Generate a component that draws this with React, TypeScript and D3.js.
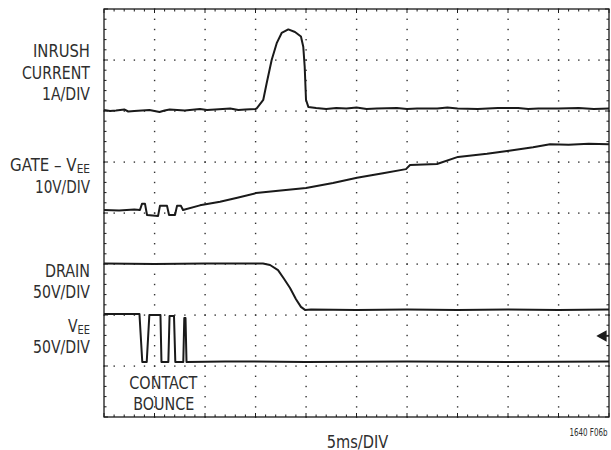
import * as d3 from "d3";
import React from "react";

// time in ms (5ms/DIV, 10 divisions), level in divisions from bottom (8 divisions)
const inrushCurrent: [number, number][] = [
  [0, 6.02], [0.6, 6.0], [1.2, 6.01], [2.0, 6.03], [2.4, 5.99], [3.0, 6.0],
  [4.5, 6.02], [5.5, 5.98], [6.0, 6.01], [6.5, 6.03], [8, 6.01], [9.5, 6.04],
  [10.2, 6.02], [11, 6.03], [12.5, 6.05], [13.3, 6.02], [14, 6.03],
  [15.0, 6.04], [15.12, 6.05], [15.77, 6.22], [16.11, 6.55], [16.6, 7.0],
  [17.1, 7.33], [17.59, 7.53], [18.25, 7.6], [18.91, 7.55], [19.5, 7.46],
  [19.73, 7.26], [19.87, 6.87], [20.0, 6.22], [20.23, 6.08], [21, 6.06],
  [22, 6.04], [23, 6.06], [24, 6.05], [25, 6.07], [26, 6.04], [27, 6.05],
  [29, 6.06], [30, 6.04], [31, 6.05], [33, 6.05], [34, 6.07], [35, 6.05],
  [37, 6.04], [39, 6.06], [41, 6.06], [42, 6.04], [43, 6.05], [45, 6.05],
  [47, 6.06], [48.5, 6.04], [50, 6.05],
];

const gateVoltage: [number, number][] = [
  [0, 4.06], [1.5, 4.05], [3.0, 4.07], [3.56, 4.06], [3.76, 4.18], [4.06, 4.18],
  [4.26, 3.96], [5.35, 3.94], [5.54, 4.14], [6.24, 4.14], [6.44, 3.96],
  [7.03, 3.96], [7.23, 4.14], [7.62, 4.14], [7.82, 4.06], [9.5, 4.15],
  [11.49, 4.22], [13.2, 4.3], [15.05, 4.39], [17.5, 4.44], [20.0, 4.49],
  [22.67, 4.59], [25.05, 4.69], [27.62, 4.78], [29.9, 4.86], [30.3, 4.94],
  [32.97, 4.96], [35.05, 5.1], [37.92, 5.16], [40.1, 5.22], [42.48, 5.29],
  [44.16, 5.35], [46, 5.34], [48, 5.36], [50, 5.35],
];

const drainVoltage: [number, number][] = [
  [0, 3.01], [5, 3.0], [10, 3.01], [15.74, 3.01], [16.44, 2.98],
  [17.23, 2.88], [17.82, 2.71], [18.42, 2.53], [19.01, 2.31], [19.5, 2.16],
  [19.9, 2.1], [20.5, 2.11], [25, 2.1], [30, 2.11], [35, 2.1], [40, 2.11],
  [45, 2.1], [50, 2.11],
];

const veeVoltage: [number, number][] = [
  [0, 2.02], [3.51, 2.02], [3.79, 1.08], [4.23, 1.08], [4.49, 2.0],
  [5.59, 2.0], [5.69, 1.08], [6.37, 1.08], [6.49, 1.98], [6.93, 1.98],
  [7.06, 1.08], [7.85, 1.08], [7.95, 1.94], [8.07, 1.94], [8.17, 1.08],
  [12, 1.09], [20, 1.08], [30, 1.09], [40, 1.08], [50, 1.09],
];

const groundMarker = { t: 48.9, level: 1.59 };

const traceLabels = [
  { lines: ["INRUSH", "CURRENT", "1A/DIV"], widths: [57, 68, 48], baselines: [57.3, 79, 100] },
  { lines: ["10V/DIV"], widths: [55], baselines: [192.7] },
  { lines: ["DRAIN", "50V/DIV"], widths: [45, 57], baselines: [277.3, 298.3] },
  { lines: ["50V/DIV"], widths: [57], baselines: [353.3] },
];

const divX = 10;
const divY = 8;
const msPerDiv = 5;

const left = 104;
const right = 609;
const top = 9;
const bottom = 417;

const font = "'Liberation Sans Narrow', 'DejaVu Sans Condensed', 'Liberation Sans', Arial, sans-serif";
const ink = "#1a1a1a";
const textInk = "#2e2e2e";

export default function App() {
  const x = d3.scaleLinear().domain([0, divX * msPerDiv]).range([left, right]);
  const y = d3.scaleLinear().domain([0, divY]).range([bottom, top]);

  const line = d3
    .line<[number, number]>()
    .x((d) => x(d[0]))
    .y((d) => y(d[1]));

  const minorT = d3.range(0, divX * msPerDiv + 0.001, 1);
  const minorL = d3.range(0, divY + 0.001, 0.2);
  const majorT = d3.range(msPerDiv, divX * msPerDiv, msPerDiv);
  const majorL = d3.range(1, divY, 1);

  const dots: React.ReactNode[] = [];
  majorT.forEach((t) =>
    minorL.forEach((l, i) =>
      dots.push(<rect key={`v${t}-${i}`} x={x(t) - 0.6} y={y(l) - 0.6} width={1.4} height={1.4} fill="#333" />)
    )
  );
  majorL.forEach((l) =>
    minorT.forEach((t, i) =>
      dots.push(<rect key={`h${l}-${i}`} x={x(t) - 0.6} y={y(l) - 0.6} width={1.4} height={1.4} fill="#333" />)
    )
  );

  const ticks: React.ReactNode[] = [];
  minorT.forEach((t, i) => {
    const len = i % 5 === 0 ? 4 : 2.5;
    ticks.push(<line key={`tt${i}`} x1={x(t)} x2={x(t)} y1={top} y2={top + len} stroke={ink} strokeWidth={1} />);
    ticks.push(<line key={`tb${i}`} x1={x(t)} x2={x(t)} y1={bottom} y2={bottom - len} stroke={ink} strokeWidth={1} />);
  });
  minorL.forEach((l, i) => {
    const len = i % 5 === 0 ? 4 : 2.5;
    ticks.push(<line key={`tl${i}`} x1={left} x2={left + len} y1={y(l)} y2={y(l)} stroke={ink} strokeWidth={1} />);
    ticks.push(<line key={`tr${i}`} x1={right} x2={right - len} y1={y(l)} y2={y(l)} stroke={ink} strokeWidth={1} />);
  });

  const traces = [inrushCurrent, gateVoltage, drainVoltage, veeVoltage];

  const mx = x(groundMarker.t);
  const my = y(groundMarker.level);

  return (
    <svg
      width={611}
      height={450}
      style={{ position: "absolute", left: 0, top: 0, background: "#fff" }}
      fontFamily={font}
    >
      <rect x={0} y={0} width={611} height={450} fill="#fff" />
      <g>{dots}</g>
      <g>{ticks}</g>
      <rect x={left} y={top} width={right - left} height={bottom - top} fill="none" stroke={ink} strokeWidth={1.3} />

      <g fill="none" stroke={ink} strokeWidth={2} strokeLinejoin="round">
        {traces.map((d, i) => (
          <path key={i} d={line(d) ?? ""} />
        ))}
      </g>

      <path
        d={`M${mx},${my} L${mx + 8},${my - 4.5} L${mx + 8},${my + 4.5} Z M${mx + 8},${my} L${right},${my}`}
        fill={ink}
        stroke={ink}
        strokeWidth={1.5}
      />

      <g fill={textInk} fontSize={18.5} textAnchor="end">
        {traceLabels.map((g, gi) =>
          g.lines.map((t, i) => (
            <text key={`${gi}-${i}`} x={90} y={g.baselines[i]} textLength={g.widths[i]} lengthAdjust="spacingAndGlyphs">
              {t}
            </text>
          ))
        )}
        <text x={90} y={170.7} textLength={80} lengthAdjust="spacingAndGlyphs">
          GATE – V<tspan fontSize={13} dy={2}>EE</tspan>
        </text>
        <text x={90} y={331.7} textLength={22} lengthAdjust="spacingAndGlyphs">
          V<tspan fontSize={13} dy={2.3}>EE</tspan>
        </text>
      </g>
      <g fill={textInk} fontSize={18.5} textAnchor="middle">
        <text x={163.3} y={389.3} textLength={68} lengthAdjust="spacingAndGlyphs">CONTACT</text>
        <text x={163.7} y={410} textLength={61} lengthAdjust="spacingAndGlyphs">BOUNCE</text>
      </g>
      <text x={357.5} y={447.5} fill={textInk} fontSize={18} textAnchor="middle" textLength={61.5} lengthAdjust="spacingAndGlyphs">
        5ms/DIV
      </text>
      <text x={607.5} y={435.7} fill={textInk} fontSize={10} textAnchor="end" textLength={38} lengthAdjust="spacingAndGlyphs">
        1640 F06b
      </text>
    </svg>
  );
}
